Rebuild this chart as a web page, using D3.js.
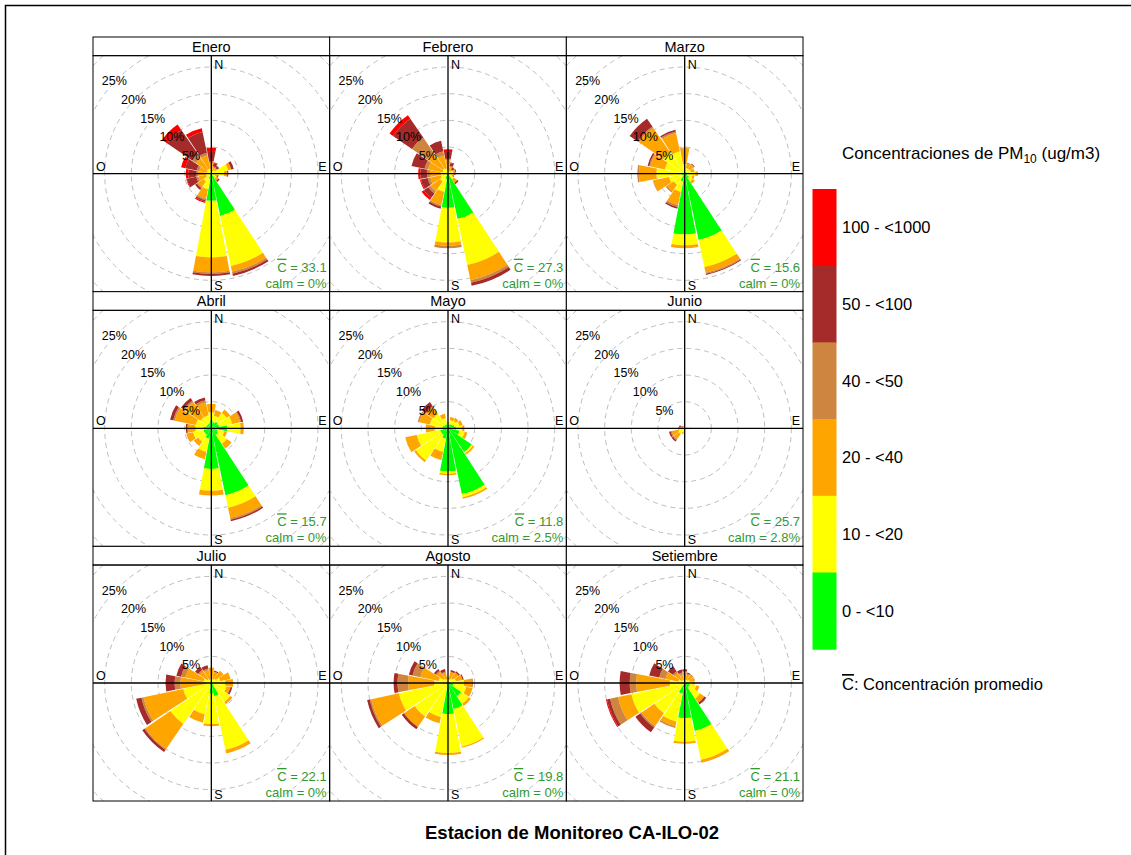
<!DOCTYPE html>
<html>
<head>
<meta charset="utf-8">
<script src="https://cdn.jsdelivr.net/npm/d3@7"></script>
<style>
body { margin: 0; background: #fff; }
svg { display: block; font-family: "Liberation Sans", Arial, sans-serif; }
</style>
</head>
<body>
<svg id="chart" width="1131" height="855"></svg>
<script>
// Pollution roses of PM10, one panel per month

var months = ["Enero", "Febrero", "Marzo", "Abril", "Mayo", "Junio", "Julio", "Agosto", "Setiembre"];
// wind sectors, degrees clockwise from north
var directions = [0, 22.5, 45, 67.5, 90, 112.5, 135, 157.5, 180, 202.5, 225, 247.5, 270, 292.5, 315, 337.5];
var binLabels = ["0 - <10", "10 - <20", "20 - <40", "40 - <50", "50 - <100", "100 - <1000"];
var binColors = ["#00FF00", "#FFFF00", "#FFA500", "#CD853F", "#A52A2A", "#FF0000"];

// frequency (%) per sector, split by concentration bin
var enero = [
	[0, 0.5, 1.5, 0.3, 2.0, 0.6], [0, 0.5, 0.7, 0.2, 0.6, 0.2], [0, 0.8, 0.5, 0, 0.5, 0], [0.2, 3.0, 0.6, 0, 0.5, 0],
	[0.2, 2.2, 0.6, 0, 0.2, 0], [0, 0.8, 0.4, 0, 0.2, 0], [0.2, 0.9, 0.5, 0, 0.3, 0], [8.1, 9.6, 1.1, 0.4, 0.4, 0],
	[5.1, 10.6, 2.8, 0.3, 0.4, 0], [1.0, 2.0, 1.8, 0.3, 0.3, 0.2], [0.3, 1.5, 1.2, 0.3, 0.4, 0], [0.2, 0.8, 1.5, 0.4, 1.8, 0.1],
	[0.2, 0.8, 1.5, 0.3, 1.5, 0.5], [0, 0.8, 1.5, 0.5, 2.2, 0.8], [0, 1.0, 2.5, 1.0, 5.5, 1.2], [0, 1.0, 2.5, 0.5, 4.0, 0.7]
];
var febrero = [
	[0, 0.5, 2.0, 0.3, 1.3, 0.5], [0, 0.5, 0.8, 0.2, 0.5, 0.2], [0, 0.4, 0.6, 0, 0.4, 0.1], [0.2, 0.8, 0.4, 0, 0.2, 0],
	[0.2, 0.7, 0.3, 0, 0.2, 0], [0.2, 0.6, 0.3, 0, 0.1, 0], [0.3, 1.0, 0.8, 0, 0.3, 0], [8.7, 8.8, 2.9, 0.5, 0.6, 0],
	[6.4, 6.5, 0.6, 0.5, 0, 0], [1.0, 2.5, 2.5, 0.3, 0.4, 0], [0.3, 1.5, 2.2, 0.5, 1.0, 0.5], [0.2, 1.2, 2.0, 0.5, 1.3, 0.2],
	[0.2, 1.2, 2.0, 0.5, 1.3, 0.4], [0, 1.0, 2.8, 0.7, 2.5, 0], [0, 1.2, 3.5, 3.5, 4.3, 0.8], [0, 1.0, 2.5, 0.8, 2.0, 0]
];
var marzo = [
	[0.3, 1.5, 3.0, 0.1, 0, 0], [0.3, 0.8, 0.8, 0.2, 0, 0], [0.3, 0.8, 0.9, 0.2, 0.1, 0], [0.4, 0.8, 0.6, 0.1, 0, 0],
	[0.5, 1.5, 0.5, 0, 0, 0], [0.5, 1.0, 0.4, 0, 0, 0], [1.0, 0.8, 0.5, 0, 0, 0], [12.7, 5.2, 1.1, 0.2, 0.2, 0],
	[11.4, 2.0, 0.6, 0, 0, 0], [1.5, 2.0, 2.5, 0.4, 0.3, 0], [0.5, 2.0, 1.5, 0.3, 0, 0], [0.5, 2.5, 3.0, 0.1, 0, 0],
	[0.5, 4.8, 3.3, 0.3, 0, 0], [0.3, 3.5, 2.8, 0.2, 0.3, 0], [0.3, 4.5, 5.6, 0.3, 1.8, 0], [0.3, 4.0, 3.5, 0.3, 0.3, 0]
];
var abril = [
	[1.5, 1.5, 1.6, 0, 0, 0], [1.2, 1.2, 1.1, 0, 0, 0], [1.5, 2.0, 0.8, 0, 0, 0], [1.5, 2.5, 1.5, 0.2, 0.4, 0],
	[3.0, 2.5, 0.6, 0, 0, 0], [1.2, 1.3, 0.5, 0, 0, 0], [1.5, 2.0, 1.1, 0, 0, 0], [12.8, 2.4, 2.0, 0.3, 0.3, 0],
	[7.6, 4.1, 0.9, 0, 0, 0], [2.0, 2.5, 1.4, 0, 0, 0], [1.5, 1.5, 1.0, 0, 0, 0], [1.5, 2.0, 1.3, 0, 0, 0],
	[1.5, 1.5, 1.5, 0, 0.3, 0], [1.0, 2.0, 4.0, 0.3, 0.6, 0], [1.0, 1.5, 3.5, 0.3, 0.6, 0], [1.0, 1.5, 2.5, 0.4, 0.5, 0]
];
var mayo = [
	[0.6, 0.3, 0.2, 0, 0, 0], [0.8, 0.8, 0.6, 0, 0, 0], [1.0, 0.8, 0.6, 0, 0, 0], [1.2, 1.0, 0.6, 0, 0, 0],
	[1.5, 1.2, 0.4, 0, 0, 0], [2.2, 1.0, 0.5, 0, 0, 0], [5.4, 0.3, 0.3, 0, 0, 0], [12.6, 0.6, 0.3, 0, 0, 0],
	[8.1, 0.4, 0.3, 0, 0, 0], [2.0, 2.5, 1.6, 0, 0, 0], [1.5, 5.8, 0.4, 0, 0, 0], [1.5, 4.5, 2.2, 0, 0, 0],
	[1.0, 1.5, 1.7, 0, 0, 0], [1.0, 2.5, 2.0, 0.3, 0, 0], [0.8, 2.5, 1.5, 0.3, 0.9, 0], [0.8, 1.2, 0.8, 0, 0, 0]
];
var junio = [
	[0, 0.3, 0, 0, 0, 0], [0, 0.2, 0, 0, 0, 0], [0, 0.2, 0, 0, 0, 0], [0, 0.6, 0, 0, 0, 0],
	[0, 1.2, 0, 0, 0, 0], [0, 0.5, 0, 0, 0, 0], [0, 0.3, 0, 0, 0, 0], [0, 0.4, 0, 0, 0, 0],
	[0, 0.5, 0, 0, 0, 0], [0, 0.8, 0.3, 0, 0, 0], [0, 1.3, 1.2, 0.2, 0.3, 0], [0, 1.2, 1.3, 0.2, 0.3, 0],
	[0, 0.6, 0.4, 0, 0.2, 0], [0, 0.3, 0.3, 0.2, 0.3, 0], [0, 0.2, 0.2, 0, 0.2, 0], [0, 0.2, 0.1, 0, 0, 0]
];
var julio = [
	[0.2, 0.5, 2.2, 0, 0, 0], [0.2, 0.5, 1.5, 0, 0.2, 0], [0.2, 0.8, 1.8, 0, 0, 0], [0.2, 1.5, 2.0, 0, 0, 0],
	[0.3, 2.3, 1.5, 0, 0, 0], [0.4, 2.5, 0.8, 0, 0.3, 0], [0.5, 3.8, 0.5, 0, 0, 0], [2.5, 10.3, 0.7, 0, 0, 0],
	[2.0, 5.7, 0.4, 0, 0, 0], [0.5, 5.5, 1.6, 0, 0, 0], [0.3, 9.0, 5.7, 0.2, 0.5, 0], [0.3, 5.1, 7.6, 0.4, 1.0, 0],
	[0.3, 0.7, 4.8, 1.1, 1.7, 0], [0.2, 1.3, 3.5, 0.8, 0.9, 0], [0.2, 0.7, 1.8, 0.3, 0.7, 0], [0.2, 0.5, 1.8, 0.3, 0.6, 0]
];
var agosto = [
	[0.2, 0.5, 0.4, 0, 0, 0], [0.2, 0.5, 1.5, 0, 0.3, 0], [0.3, 0.8, 1.3, 0, 0.3, 0], [0.3, 1.2, 1.3, 0, 0.2, 0],
	[0.5, 2.5, 1.4, 0.3, 0, 0], [1.0, 2.5, 1.2, 0, 0, 0], [3.0, 1.7, 0.5, 0, 0, 0], [5.0, 7.2, 0.2, 0, 0, 0],
	[5.8, 7.3, 0.4, 0, 0, 0], [0.5, 6.0, 1.2, 0, 0, 0], [0.3, 7.3, 2.4, 0, 0.5, 0], [0.3, 9.1, 5.3, 0.3, 0.5, 0],
	[0.3, 2.3, 4.9, 2.0, 0.7, 0], [0.3, 1.5, 3.5, 1.5, 0.7, 0], [0.2, 0.8, 1.5, 0.3, 0.4, 0], [0.2, 0.5, 1.2, 0.3, 0.5, 0]
];
var setiembre = [
	[0.2, 0.5, 1.3, 0.2, 0.4, 0], [0.2, 0.4, 1.0, 0.2, 0.2, 0], [0.2, 0.5, 1.1, 0.2, 0, 0], [0.3, 0.7, 0.9, 0.1, 0, 0],
	[0.5, 0.9, 0.5, 0, 0, 0], [1.0, 1.2, 0.6, 0, 0, 0], [1.0, 2.5, 1.0, 0, 0.4, 0], [9.2, 5.5, 0.6, 0, 0, 0],
	[6.6, 4.4, 0.4, 0, 0, 0], [2.0, 5.4, 0.9, 0.3, 0, 0], [0.3, 6.6, 2.9, 0.3, 1.1, 0], [0.3, 9.9, 2.6, 1.5, 0.6, 0.2],
	[0.3, 2.5, 6.3, 1.2, 1.9, 0], [0.2, 1.0, 2.5, 1.2, 1.9, 0], [0.2, 0.4, 1.7, 0.4, 1.1, 0], [0.2, 0.4, 1.1, 0.3, 0.6, 0]
];
var monthData = [enero, febrero, marzo, abril, mayo, junio, julio, agosto, setiembre];
var meanConc = ["33.1", "27.3", "15.6", "15.7", "11.8", "25.7", "22.1", "19.8", "21.1"];
var calmPct = ["0", "0", "0", "0", "2.5", "2.8", "0", "0", "0"];
var gridPcts = [5, 10, 15, 20, 25, 30];
var labelPcts = [5, 10, 15, 20, 25];

var svg = d3.select("#chart");
var gridLeft = 93;
var gridTop = 37;
var panelW = 236.67;
var stripH = 18.67;
var plotH = 236;
var panelH = stripH + plotH;
var halfWidth = 10.6 * Math.PI / 180;
var green = "#2f9a2f";

var rScale = d3.scaleLinear().domain([0, 30]).range([0, 160]);

// C with an overline, followed by the rest of the string
function meanLabel(sel, rest) {
	sel.append("tspan").style("text-decoration", "overline").text("C");
	sel.append("tspan").text(rest);
}

// outer frame
svg.append("rect")
	.attr("x", 5.5).attr("y", 5.5)
	.attr("width", 1140).attr("height", 880)
	.attr("fill", "none").attr("stroke", "#000").attr("stroke-width", 1.5);

function drawPanel(i) {
	let col = i % 3;
	let row = Math.floor(i / 3);
	let x0 = gridLeft + col * panelW;
	let y0 = gridTop + row * panelH;
	let py = y0 + stripH;
	let cx = x0 + panelW / 2;
	let cy = py + plotH / 2;

	let g = svg.append("g");
	let clipId = "clip" + i;
	g.append("clipPath").attr("id", clipId)
		.append("rect").attr("x", x0).attr("y", py).attr("width", panelW).attr("height", plotH);

	let inner = g.append("g").attr("clip-path", "url(#" + clipId + ")");

	// dashed grid circles
	inner.selectAll("circle")
		.data(gridPcts)
		.enter()
		.append("circle")
		.attr("cx", cx).attr("cy", cy)
		.attr("r", function(d) { return rScale(d); })
		.attr("fill", "none")
		.attr("stroke", "#bdbdbd")
		.attr("stroke-dasharray", "5,4");

	// stacked wedges
	let segs = [];
	monthData[i].forEach(function(bins, k) {
		let cum = 0;
		bins.forEach(function(v, b) {
			if (v > 0) {
				segs.push({ dir: directions[k], from: cum, to: cum + v, bin: b });
			}
			cum += v;
		});
	});
	let arc = d3.arc()
		.innerRadius(function(d) { return rScale(d.from); })
		.outerRadius(function(d) { return rScale(d.to); })
		.startAngle(function(d) { return d.dir * Math.PI / 180 - halfWidth; })
		.endAngle(function(d) { return d.dir * Math.PI / 180 + halfWidth; });
	inner.append("g")
		.attr("transform", "translate(" + cx + "," + cy + ")")
		.selectAll("path")
		.data(segs)
		.enter()
		.append("path")
		.attr("d", arc)
		.attr("fill", function(d) { return binColors[d.bin]; });

	// cross axes
	inner.append("line")
		.attr("x1", cx).attr("x2", cx).attr("y1", py).attr("y2", py + plotH)
		.attr("stroke", "#000").attr("stroke-width", 1.3);
	inner.append("line")
		.attr("x1", x0).attr("x2", x0 + panelW).attr("y1", cy).attr("y2", cy)
		.attr("stroke", "#000").attr("stroke-width", 1.3);

	// percent labels on the NW diagonal
	inner.selectAll("text.pct")
		.data(labelPcts)
		.enter()
		.append("text")
		.attr("class", "pct")
		.attr("x", function(d) { return cx - rScale(d) * 0.72 - 1; })
		.attr("y", function(d) { return cy - rScale(d) * 0.70 + 5; })
		.attr("text-anchor", "middle")
		.style("font-size", "12.5px")
		.text(function(d) { return d + "%"; });

	// compass letters
	g.append("text").attr("x", cx + 3).attr("y", py + 13).style("font-size", "12.5px").text("N");
	g.append("text").attr("x", cx + 3).attr("y", py + plotH - 2).style("font-size", "12.5px").text("S");
	g.append("text").attr("x", x0 + 3).attr("y", cy - 3).style("font-size", "12.5px").text("O");
	g.append("text").attr("x", x0 + panelW - 3).attr("y", cy - 3).attr("text-anchor", "end")
		.style("font-size", "12.5px").text("E");

	// mean and calm annotations
	let meanText = g.append("text").attr("x", x0 + panelW - 3).attr("y", py + plotH - 20)
		.attr("text-anchor", "end").attr("fill", green).style("font-size", "13px");
	meanLabel(meanText, " = " + meanConc[i]);
	g.append("text").attr("x", x0 + panelW - 3).attr("y", py + plotH - 4)
		.attr("text-anchor", "end").attr("fill", green).style("font-size", "13px")
		.text("calm = " + calmPct[i] + "%");

	// strip and borders
	g.append("rect").attr("x", x0).attr("y", y0).attr("width", panelW).attr("height", stripH)
		.attr("fill", "#fff").attr("stroke", "#000");
	g.append("text").attr("x", cx).attr("y", y0 + stripH - 4).attr("text-anchor", "middle")
		.style("font-size", "14.5px").text(months[i]);
	g.append("rect").attr("x", x0).attr("y", py).attr("width", panelW).attr("height", plotH)
		.attr("fill", "none").attr("stroke", "#000");
}

for (let i = 0; i < months.length; i++) {
	drawPanel(i);
}

// legend
let legendX = 812.5;
let legendTop = 189;
let boxH = 76.7;
let textX = 842;
let legendG = svg.append("g");
let title = legendG.append("text").attr("x", textX).attr("y", 159).style("font-size", "17px");
title.append("tspan").text("Concentraciones de PM");
title.append("tspan").attr("dy", 4).style("font-size", "12px").text("10");
title.append("tspan").attr("dy", -4).text(" (ug/m3)");

let legendBins = binLabels.map(function(d, i) { return i; }).reverse();
legendG.selectAll("rect")
	.data(legendBins)
	.enter()
	.append("rect")
	.attr("x", legendX)
	.attr("y", function(d, i) { return legendTop + i * boxH; })
	.attr("width", 24)
	.attr("height", boxH + 0.5)
	.attr("fill", function(d) { return binColors[d]; });
legendG.selectAll("text.lab")
	.data(legendBins)
	.enter()
	.append("text")
	.attr("class", "lab")
	.attr("x", textX)
	.attr("y", function(d, i) { return legendTop + i * boxH + boxH / 2 + 6; })
	.style("font-size", "16.5px")
	.text(function(d) { return binLabels[d]; });
let meanKey = legendG.append("text").attr("x", textX).attr("y", 690).style("font-size", "16.5px");
meanLabel(meanKey, ": Concentración promedio");

// station title
svg.append("text")
	.attr("x", 572).attr("y", 839)
	.attr("text-anchor", "middle")
	.style("font-size", "18.5px").style("font-weight", "bold")
	.text("Estacion de Monitoreo CA-ILO-02");
</script>
</body>
</html>
